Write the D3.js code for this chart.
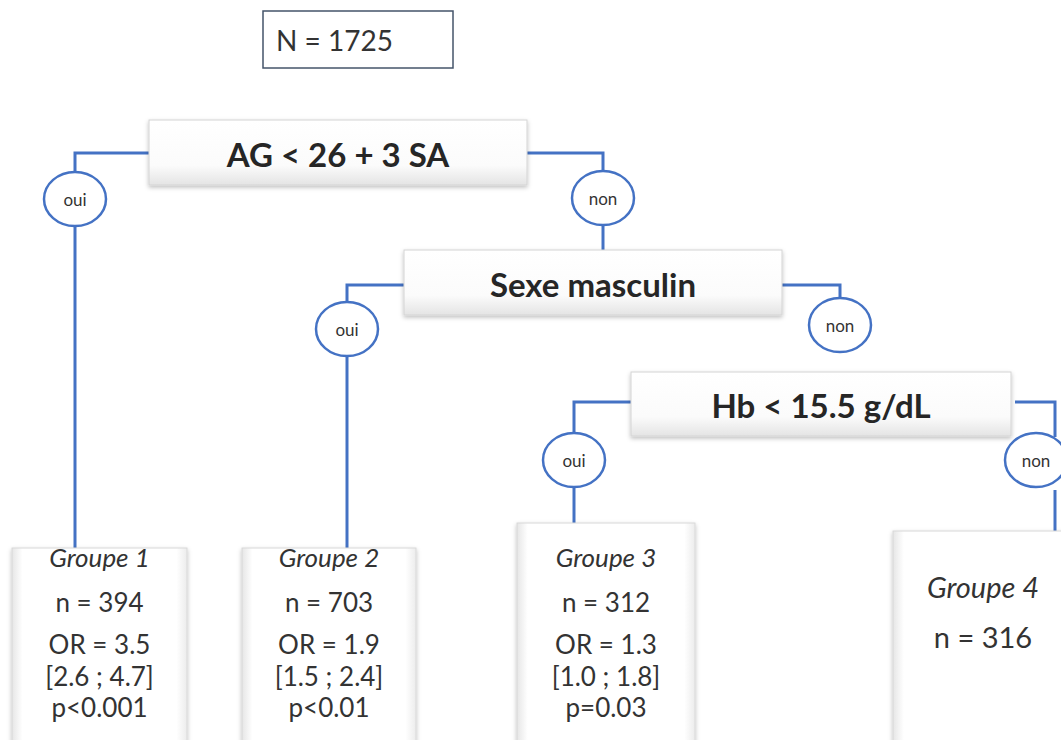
<!DOCTYPE html>
<html>
<head>
<meta charset="utf-8">
<script src="https://cdn.jsdelivr.net/npm/d3@7"></script>
<style>
  html, body { margin: 0; padding: 0; background: #fff; }
  svg { display: block; font-family: Lato, "Open Sans", sans-serif; }
</style>
</head>
<body>
<div id="chart"></div>
<script>
// données de l'arbre
const totalN = 1725;
const splitLabels = ["AG < 26 + 3 SA", "Sexe masculin", "Hb < 15.5 g/dL"];
const branchLabels = ["oui", "non"];
const groupNames = ["Groupe 1", "Groupe 2", "Groupe 3", "Groupe 4"];
const groupN = [394, 703, 312, 316];
const groupOR = ["3.5", "1.9", "1.3", null];
const groupCI = ["[2.6 ; 4.7]", "[1.5 ; 2.4]", "[1.0 ; 1.8]", null];
const groupP = ["p<0.001", "p<0.01", "p=0.03", null];

const width = 1061;
const height = 740;
const blue = "#4472c4";
const textCol = "#262626";
const softText = "#333333";

const svg = d3.select("#chart").append("svg")
  .attr("width", width)
  .attr("height", height);

const defs = svg.append("defs");
const shadow = defs.append("filter").attr("id", "shadow")
  .attr("x", "-10%").attr("y", "-10%").attr("width", "120%").attr("height", "130%");
shadow.append("feDropShadow")
  .attr("dx", 0).attr("dy", 2).attr("stdDeviation", 2)
  .attr("flood-color", "#000").attr("flood-opacity", 0.25);

const grad = defs.append("linearGradient").attr("id", "boxGrad")
  .attr("x1", 0).attr("y1", 0).attr("x2", 0).attr("y2", 1);
grad.append("stop").attr("offset", "0%").attr("stop-color", "#ffffff");
grad.append("stop").attr("offset", "70%").attr("stop-color", "#fbfbfb");
grad.append("stop").attr("offset", "100%").attr("stop-color", "#e4e4e4");

const gradSide = defs.append("linearGradient").attr("id", "groupGrad")
  .attr("x1", 0).attr("y1", 0).attr("x2", 1).attr("y2", 0);
gradSide.append("stop").attr("offset", "0%").attr("stop-color", "#e6e6e6");
gradSide.append("stop").attr("offset", "6%").attr("stop-color", "#ffffff");
gradSide.append("stop").attr("offset", "94%").attr("stop-color", "#ffffff");
gradSide.append("stop").attr("offset", "100%").attr("stop-color", "#ececec");

// mise en page : boîtes de décision
const splitBoxes = [
  { x: 149, y: 120, w: 378, h: 65 },
  { x: 404, y: 250, w: 378, h: 65 },
  { x: 631, y: 372, w: 380, h: 64 }
];
// boîtes des groupes
const groupBoxes = [
  { x: 12, y: 548, w: 175, h: 200 },
  { x: 242, y: 548, w: 174, h: 200 },
  { x: 517, y: 523, w: 178, h: 225 },
  { x: 893, y: 531, w: 180, h: 217 }
];
// bulles oui / non
const bubbles = [
  { cx: 75, cy: 199, label: 0 },
  { cx: 603, cy: 198, label: 1 },
  { cx: 347, cy: 329, label: 0 },
  { cx: 840, cy: 325, label: 1 },
  { cx: 574, cy: 460, label: 0 },
  { cx: 1036, cy: 460, label: 1 }
];
const rx = 31, ry = 27;

// connecteurs
const links = [
  [[149, 153], [75, 153], [75, 172]],
  [[75, 226], [75, 548]],
  [[527, 153], [603, 153], [603, 171]],
  [[603, 225], [603, 250]],
  [[404, 285], [347, 285], [347, 302]],
  [[347, 356], [347, 548]],
  [[782, 285], [840, 285], [840, 298]],
  [[631, 402], [574, 402], [574, 433]],
  [[574, 487], [574, 523]],
  [[1015, 402], [1055, 402], [1055, 437]],
  [[1055, 490], [1055, 531]]
];

const line = d3.line();
svg.append("g").selectAll("path")
  .data(links)
  .join("path")
  .attr("d", line)
  .attr("fill", "none")
  .attr("stroke", blue)
  .attr("stroke-width", 3);

// boîte N
svg.append("rect")
  .attr("x", 263).attr("y", 11).attr("width", 190).attr("height", 57)
  .attr("fill", "#fff").attr("stroke", "#44546a").attr("stroke-width", 1.5);
svg.append("text")
  .attr("x", 276).attr("y", 40)
  .attr("dominant-baseline", "central")
  .attr("font-size", 28)
  .attr("fill", softText)
  .text(`N = ${totalN}`);

// boîtes de décision
const split = svg.append("g").selectAll("g")
  .data(splitBoxes)
  .join("g");
split.append("rect")
  .attr("x", d => d.x).attr("y", d => d.y)
  .attr("width", d => d.w).attr("height", d => d.h)
  .attr("fill", "url(#boxGrad)")
  .attr("stroke", "#d4d4d4")
  .attr("filter", "url(#shadow)");
split.append("text")
  .attr("x", d => d.x + d.w / 2)
  .attr("y", d => d.y + d.h / 2 + 1)
  .attr("text-anchor", "middle")
  .attr("dominant-baseline", "central")
  .attr("font-weight", "bold")
  .attr("font-size", 33)
  .attr("fill", textCol)
  .text((d, i) => splitLabels[i]);

// bulles
const bub = svg.append("g").selectAll("g")
  .data(bubbles)
  .join("g");
bub.append("ellipse")
  .attr("cx", d => d.cx).attr("cy", d => d.cy)
  .attr("rx", rx).attr("ry", ry)
  .attr("fill", "#fff")
  .attr("stroke", blue)
  .attr("stroke-width", 2.5);
bub.append("text")
  .attr("x", d => d.cx).attr("y", d => d.cy)
  .attr("text-anchor", "middle")
  .attr("dominant-baseline", "central")
  .attr("font-size", 17)
  .attr("fill", softText)
  .text(d => branchLabels[d.label]);

// groupes
const grp = svg.append("g").selectAll("g")
  .data(groupBoxes)
  .join("g");
grp.append("rect")
  .attr("x", d => d.x).attr("y", d => d.y)
  .attr("width", d => d.w).attr("height", d => d.h)
  .attr("fill", "url(#groupGrad)")
  .attr("stroke", "#d8d8d8")
  .attr("filter", "url(#shadow)");

grp.each(function (d, i) {
  const g = d3.select(this);
  const cx = d.x + d.w / 2;
  const t = (y, txt, size, italic) => g.append("text")
    .attr("x", cx).attr("y", y)
    .attr("text-anchor", "middle")
    .attr("dominant-baseline", "central")
    .attr("font-size", size)
    .attr("font-style", italic ? "italic" : "normal")
    .attr("fill", softText)
    .text(txt);

  if (groupOR[i] === null) {
    // Groupe 4 : seulement le nom et n
    t(d.y + 55, groupNames[i], 29, true);
    t(d.y + 105, `n = ${groupN[i]}`, 29, false);
  } else {
    const top = d.y + (d.h - 200) + 9;
    t(top, groupNames[i], 26, true);
    t(top + 45, `n = ${groupN[i]}`, 26, false);
    t(top + 87, `OR = ${groupOR[i]}`, 26, false);
    t(top + 119, groupCI[i], 26, false);
    t(top + 150, groupP[i], 26, false);
  }
});
</script>
</body>
</html>
